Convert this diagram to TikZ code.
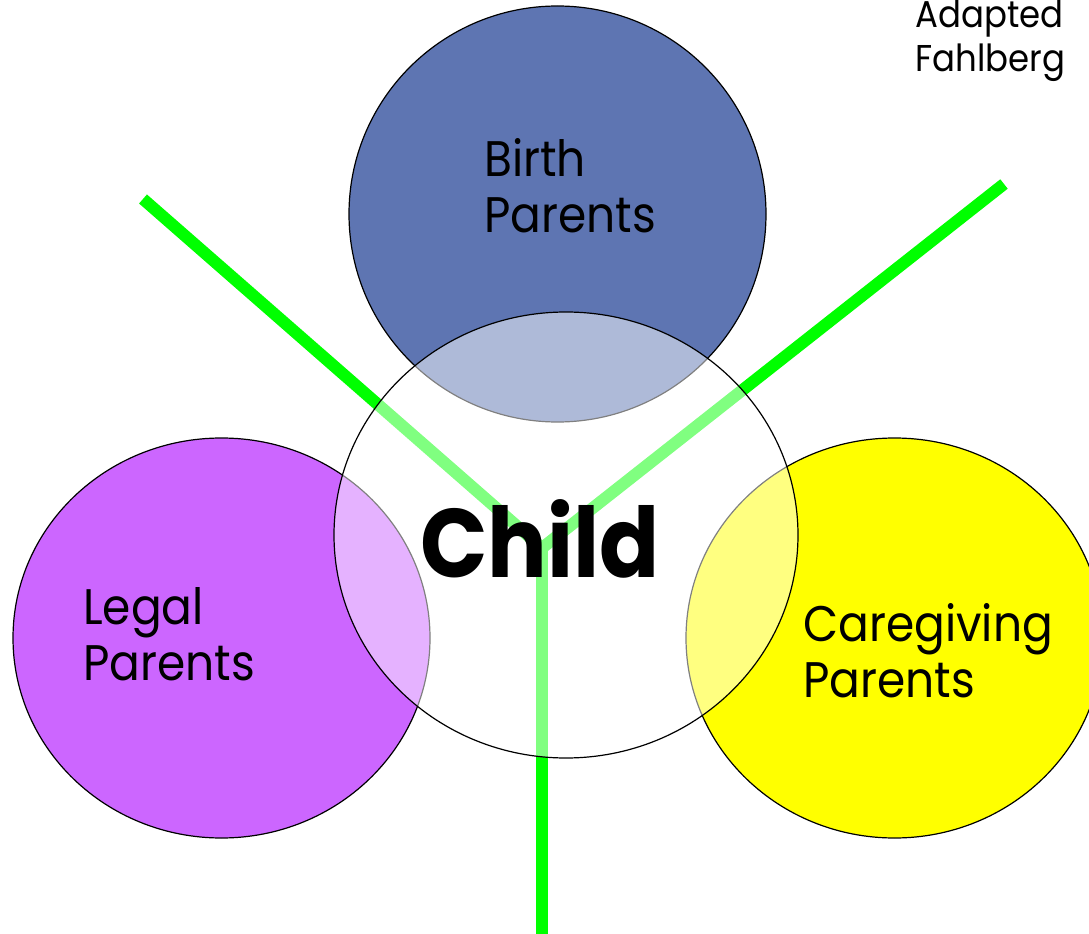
\documentclass[tikz,border=0pt]{standalone}
\usepackage{fontspec}
\setmainfont{Poppins}[FakeStretch=0.91]
\usepackage{tikz}

\definecolor{birthblue}{RGB}{94,117,178}
\definecolor{legalpurple}{RGB}{204,102,255}
\definecolor{careyellow}{RGB}{255,255,0}
\definecolor{branchgreen}{RGB}{0,255,0}

\tikzset{
  parentcircle/.style={draw=black,line width=0.9},
  branchline/.style={draw=branchgreen,line width=9},
  parentlabel/.style={anchor=base west,inner sep=0,align=left,font=\fontsize{37.5}{42}\selectfont},
}

\begin{document}
\begin{tikzpicture}[x=0.75pt,y=0.75pt,yscale=-1,xscale=1]
        \useasboundingbox (0,0) rectangle (1089,934);

        %Shape: Circle [birth parents]
        \draw [parentcircle,fill=birthblue] (557.5,214) ellipse (208.5 and 208);
        %Shape: Circle [legal parents]
        \draw [parentcircle,fill=legalpurple] (221.5,638) ellipse (208.5 and 200);
        %Shape: Circle [caregiving parents]
        \draw [parentcircle,fill=careyellow] (894.5,638) ellipse (208.5 and 200);

        %Straight Lines [branches]
        \coordinate (hub) at (542,548);
        \coordinate (tlend) at (143,199);
        \coordinate (trend) at (1004,184);
        \coordinate (botend) at (542,934);
        \draw [branchline] (tlend) -- (hub) -- (trend);
        \draw [branchline] (hub) -- (botend);

        %Shape: Circle [child]
        \draw [parentcircle,fill=white,fill opacity=0.5] (566,535) ellipse (232 and 223);

        % Text Node
        \node [parentlabel] (birthlbl) at (484,233) {Birth\\Parents};
        % Text Node
        \node [parentlabel] (legallbl) at (83,680) {Legal\\Parents};
        % Text Node
        \node [parentlabel] (carelbl) at (803,697) {Caregiving\\Parents};
        % Text Node
        \node [anchor=base west,inner sep=0,font=\fontsize{73}{80}\selectfont\bfseries] (childlbl) at (420,577) {Child};
        % Text Node
        \node [anchor=base west,inner sep=0,align=left,font=\fontsize{28}{33}\selectfont] (credit) at (915,72) {Adapted\\Fahlberg};

\end{tikzpicture}
\end{document}
